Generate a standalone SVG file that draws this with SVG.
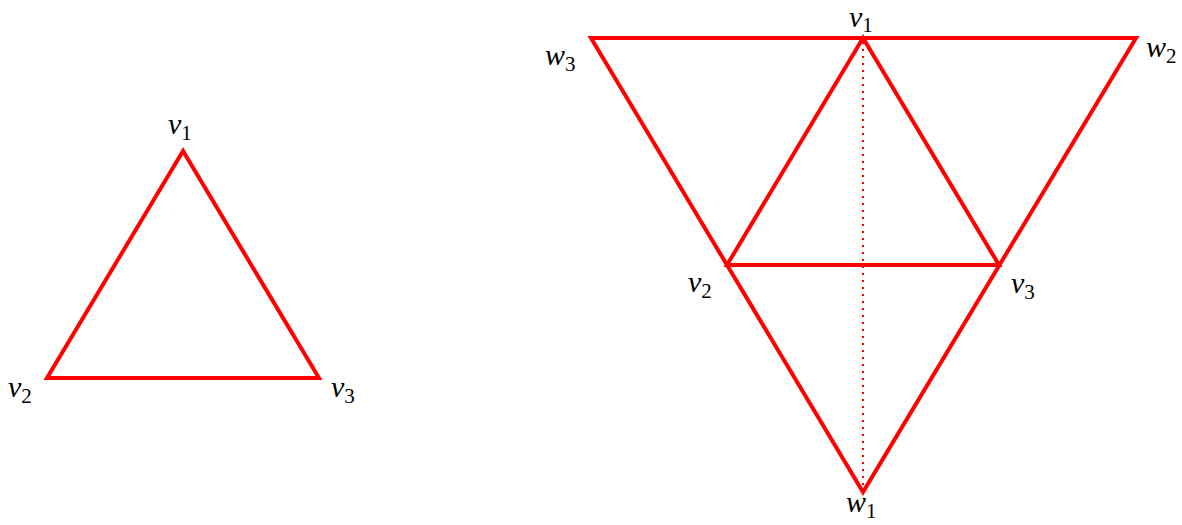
<svg xmlns="http://www.w3.org/2000/svg" width="1182" height="525" viewBox="0 0 1182 525">
<style>
.tri{fill:none;stroke:#ff0000;stroke-width:4;stroke-linejoin:miter;stroke-miterlimit:10}
.dot{fill:none;stroke:#ff0000;stroke-width:2;stroke-dasharray:2 5}
.lbl{font-family:"Liberation Serif","DejaVu Serif",serif;font-size:30px;fill:#000}
.v{font-style:italic}
.s{font-size:21px}
</style>
<rect width="1182" height="525" fill="#fff"/>
<g id="edges">
<polygon id="left-triangle" class="tri" points="183,151 47,378 319,378"/>
<polygon id="outer-triangle" class="tri" points="591,38 1136,38 863,492"/>
<polygon id="inner-triangle" class="tri" points="863,38 727,265 999,265"/>
<line id="median" class="dot" x1="863" y1="42" x2="863" y2="490"/>
</g>
<g id="left-v1"><text class="lbl" x="168" y="134"><tspan class="v">v</tspan><tspan class="s" dy="6">1</tspan></text></g>
<g id="left-v2"><text class="lbl" x="8" y="397"><tspan class="v">v</tspan><tspan class="s" dy="6">2</tspan></text></g>
<g id="left-v3"><text class="lbl" x="331" y="397"><tspan class="v">v</tspan><tspan class="s" dy="6">3</tspan></text></g>
<g id="right-v1"><text class="lbl" x="849" y="27"><tspan class="v">v</tspan><tspan class="s" dy="5">1</tspan></text></g>
<g id="right-v2"><text class="lbl" x="688" y="292"><tspan class="v">v</tspan><tspan class="s" dy="6">2</tspan></text></g>
<g id="right-v3"><text class="lbl" x="1011" y="293"><tspan class="v">v</tspan><tspan class="s" dy="6">3</tspan></text></g>
<g id="w1"><text class="lbl" x="846" y="512"><tspan class="v">w</tspan><tspan class="s" dy="6">1</tspan></text></g>
<g id="w2"><text class="lbl" x="1146" y="57"><tspan class="v">w</tspan><tspan class="s" dy="6">2</tspan></text></g>
<g id="w3"><text class="lbl" x="545" y="65"><tspan class="v">w</tspan><tspan class="s" dy="6">3</tspan></text></g>
</svg>
